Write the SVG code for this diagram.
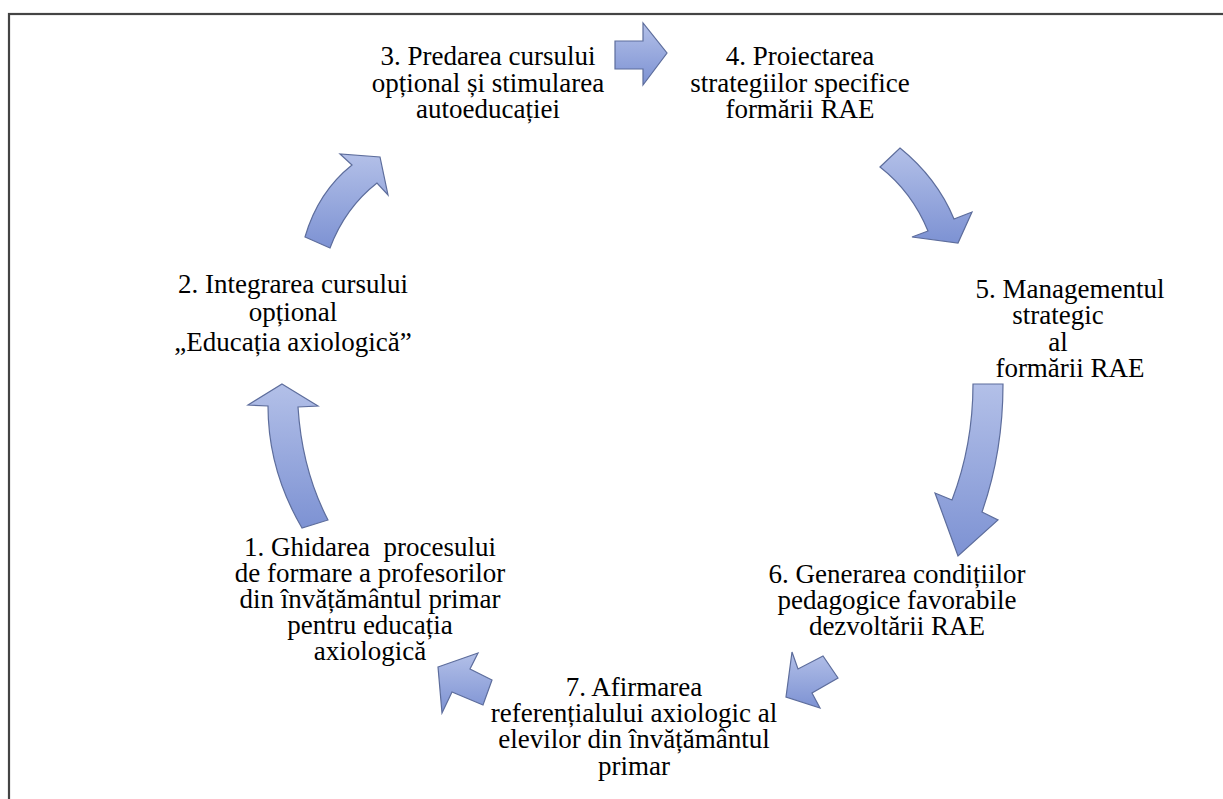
<svg xmlns="http://www.w3.org/2000/svg" width="1223" height="799" viewBox="0 0 1223 799">
<style>
  .t text { font-size: 27px; fill: #000; text-anchor: middle; }
  .arr { fill: url(#g); stroke: #5d6d9c; stroke-width: 1.2; stroke-linejoin: miter; }
</style>
<defs>
  <linearGradient id="g" x1="0" y1="0" x2="0" y2="1">
    <stop offset="0" stop-color="#b3c0e8"/>
    <stop offset="1" stop-color="#7d92d3"/>
  </linearGradient>
</defs>
<rect x="0" y="0" width="1223" height="799" fill="#fff"/>
<rect x="9" y="14" width="1240" height="820" fill="none" stroke="#444" stroke-width="2.2"/>

<g id="connectors">
  <polygon class="arr" points="615,41 643,41 643,23 667,53 643,85 643,69 615,69"/>
  <path class="arr" d="M880,167 L900,148 Q937,178 954,219 L972,212 L958,243 L912,237 L928,231 Q912,192 880,167 Z"/>
  <path class="arr" d="M973,384 L1003,384 Q1003,452 982,512 L998,520 L958,556 L935,493 L952,500 Q973,445 973,384 Z"/>
  <polygon class="arr" points="792,652 798,669 823,656 838,678 812,693 820,708 786,697"/>
  <polygon class="arr" points="438,667 478,653 470,669 492,680 483,705 452,692 442,713"/>
  <path class="arr" d="M282,384 L318,406 L298,407 Q302,470 328,520 L302,528 Q268,470 268,406 L248,405 Z"/>
  <path class="arr" d="M305,237 Q318,192 352,165 L340,154 L380,157 L388,195 L377,183 Q345,208 330,248 Z"/>
</g>

<g id="node3" class="t" font-family="Liberation Serif, Times New Roman, serif">
  <text x="488" y="65">3. Predarea cursului</text>
  <text x="488" y="92">opțional și stimularea</text>
  <text x="488" y="118">autoeducației</text>
</g>
<g id="node4" class="t" font-family="Liberation Serif, Times New Roman, serif">
  <text x="800" y="65">4. Proiectarea</text>
  <text x="800" y="92">strategiilor specifice</text>
  <text x="800" y="118">formării RAE</text>
</g>
<g id="node5" class="t" font-family="Liberation Serif, Times New Roman, serif">
  <text x="1070" y="298">5. Managementul</text>
  <text x="1058" y="324">strategic</text>
  <text x="1058" y="351">al</text>
  <text x="1070" y="377">formării RAE</text>
</g>
<g id="node6" class="t" font-family="Liberation Serif, Times New Roman, serif">
  <text x="897" y="583">6. Generarea condițiilor</text>
  <text x="897" y="609">pedagogice favorabile</text>
  <text x="897" y="635">dezvoltării RAE</text>
</g>
<g id="node7" class="t" font-family="Liberation Serif, Times New Roman, serif">
  <text x="634" y="696">7. Afirmarea</text>
  <text x="634" y="722">referențialului axiologic al</text>
  <text x="634" y="748">elevilor din învățământul</text>
  <text x="634" y="775">primar</text>
</g>
<g id="node1" class="t" font-family="Liberation Serif, Times New Roman, serif">
  <text x="370" y="556" xml:space="preserve">1. Ghidarea  procesului</text>
  <text x="370" y="582">de formare a profesorilor</text>
  <text x="370" y="608">din învățământul primar</text>
  <text x="370" y="634">pentru educația</text>
  <text x="370" y="660">axiologică</text>
</g>
<g id="node2" class="t" font-family="Liberation Serif, Times New Roman, serif">
  <text x="293" y="293">2. Integrarea cursului</text>
  <text x="293" y="321">opțional</text>
  <text x="293" y="351">„Educația axiologică”</text>
</g>
</svg>
